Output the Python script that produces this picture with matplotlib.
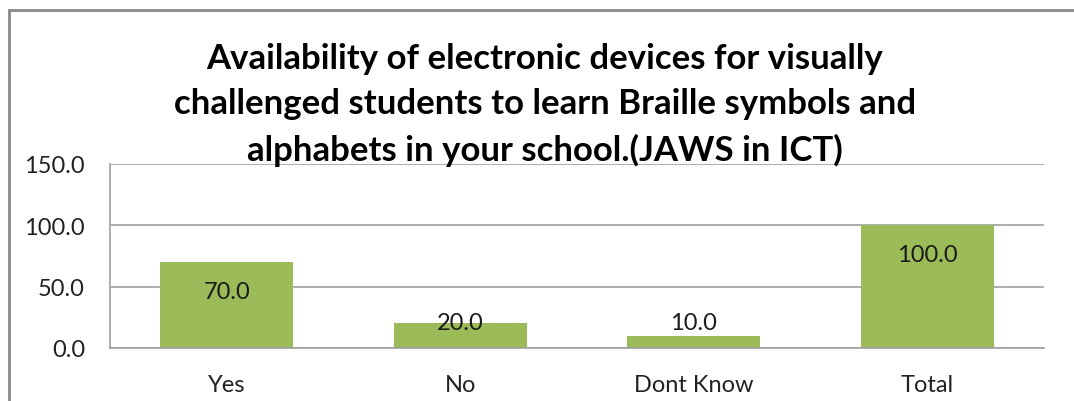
import matplotlib
matplotlib.use("Agg")
import matplotlib.pyplot as plt
from matplotlib.patches import Rectangle

categories = ["Yes", "No", "Dont Know", "Total"]
values = [70.0, 20.0, 10.0, 100.0]
yticks = [0, 50, 100, 150]
title = ("Availability of electronic devices for visually\n"
         "challenged students to learn Braille symbols and\n"
         "alphabets in your school.(JAWS in ICT)")

plt.rcParams["font.family"] = ["Lato", "DejaVu Sans"]

fig = plt.figure(figsize=(10.74, 4.02), dpi=100)
ax = fig.add_axes([110 / 1074, 1 - 349 / 402, 934 / 1074, 184 / 402])

x = range(len(categories))
ax.bar(x, values, width=0.57, color="#9BBB59", zorder=2)

# value labels sit inside the top of tall bars, above short ones
for xi, v in zip(x, values):
    ly = max(v - 24.0, 21.0)
    ax.text(xi, ly, f"{v:.1f}", ha="center", va="center",
            fontsize=17, color="#1a1a1a", zorder=3)

ax.set_xlim(-0.5, len(categories) - 0.5)
ax.set_ylim(0, 150)
ax.set_yticks(yticks)
ax.set_yticklabels([f"{t:.1f}" for t in yticks])
ax.set_xticks(list(x))
ax.set_xticklabels(categories)
ax.tick_params(axis="both", length=0, labelsize=17, colors="#222222")
ax.tick_params(axis="y", pad=18)
ax.tick_params(axis="x", pad=19)

ax.yaxis.grid(True, color="#a0a0a0", linewidth=1.2, zorder=0)
for side in ["top", "right"]:
    ax.spines[side].set_visible(False)
ax.spines["left"].set_color("#a0a0a0")
ax.spines["bottom"].set_color("#a0a0a0")
ax.spines["left"].set_linewidth(1.2)
ax.spines["bottom"].set_linewidth(1.2)

fig.text(545 / 1074, 1 - 105 / 402, title, ha="center", va="center",
         fontsize=25, fontweight="bold", linespacing=1.5)

# chart frame
fig.patches.append(Rectangle((9 / 1074, -0.1), 1.2, 1.1 - 11 / 402,
                             transform=fig.transFigure, fill=False,
                             edgecolor="#8a8a8a", linewidth=2))

fig.savefig("out.png", dpi=100)
